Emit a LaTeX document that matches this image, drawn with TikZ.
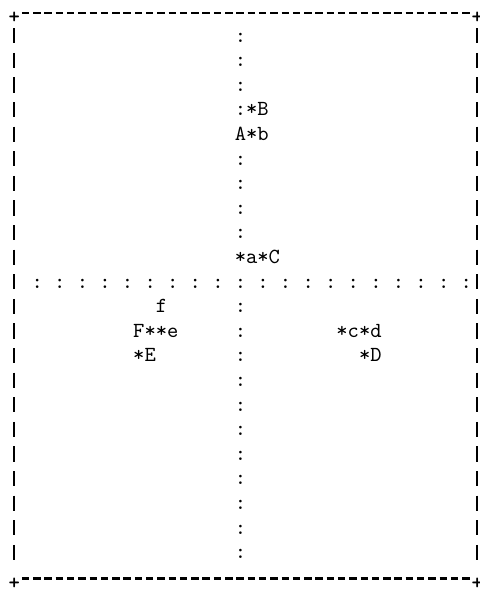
\documentclass[tikz,border=0pt]{standalone}
\usepackage{tikz}

\begin{document}
\begin{tikzpicture}[
        x=5.645pt, y=-12.3pt,
        glyph/.style={inner sep=0pt, anchor=base west, yshift=-2.3pt,
            font=\ttfamily\fontsize{10.75}{12}\selectfont},
        corner/.style={glyph, anchor=center, yshift=0pt, font=\ttfamily\bfseries\fontsize{10.75}{12}\selectfont},
        rule/.style={line width=1.3pt},
        sidebar/.style={line width=1.1pt}
    ]
    \useasboundingbox (-1.267,-0.528) rectangle (41.25,23.58);

    % Frame corners
    \node[corner] (tl) at (0,0) {+};
    \node[corner] (tr) at (41,0) {+};
    \node[corner] (bl) at (0,23) {+};
    \node[corner] (br) at (41,23) {+};

    % Frame top and bottom
    \foreach \c in {1,...,40} {
        \draw[rule] (\c-0.33,0) -- (\c+0.33,0);
        \draw[rule] (\c-0.33,23) -- (\c+0.33,23);
    }

    % Frame sides
    \foreach \r in {1,...,22} {
        \draw[sidebar] (0,\r-0.38) -- (0,\r+0.24);
        \draw[sidebar] (41,\r-0.38) -- (41,\r+0.24);
    }

    % Axes
    \foreach \r in {1,2,3,6,7,8,9,12,13,...,22}
        \node[glyph] (vax\r) at (19.5,\r) {:};
    \foreach \c in {2,4,...,40}
        \node[glyph] (hax\c) at (\c-0.5,11) {:};

    % Points
    \node[glyph] (ptB) at (19.5,4) {:*B};
    \node[glyph] (ptA) at (19.5,5) {A*b};
    \node[glyph] (ptC) at (19.5,10) {*a*C};
    \node[glyph] (ptf) at (12.5,12) {f};
    \node[glyph] (ptF) at (10.5,13) {F**e};
    \node[glyph] (ptE) at (10.5,14) {*E};
    \node[glyph] (ptd) at (28.5,13) {*c*d};
    \node[glyph] (ptD) at (30.5,14) {*D};

\end{tikzpicture}
\end{document}
